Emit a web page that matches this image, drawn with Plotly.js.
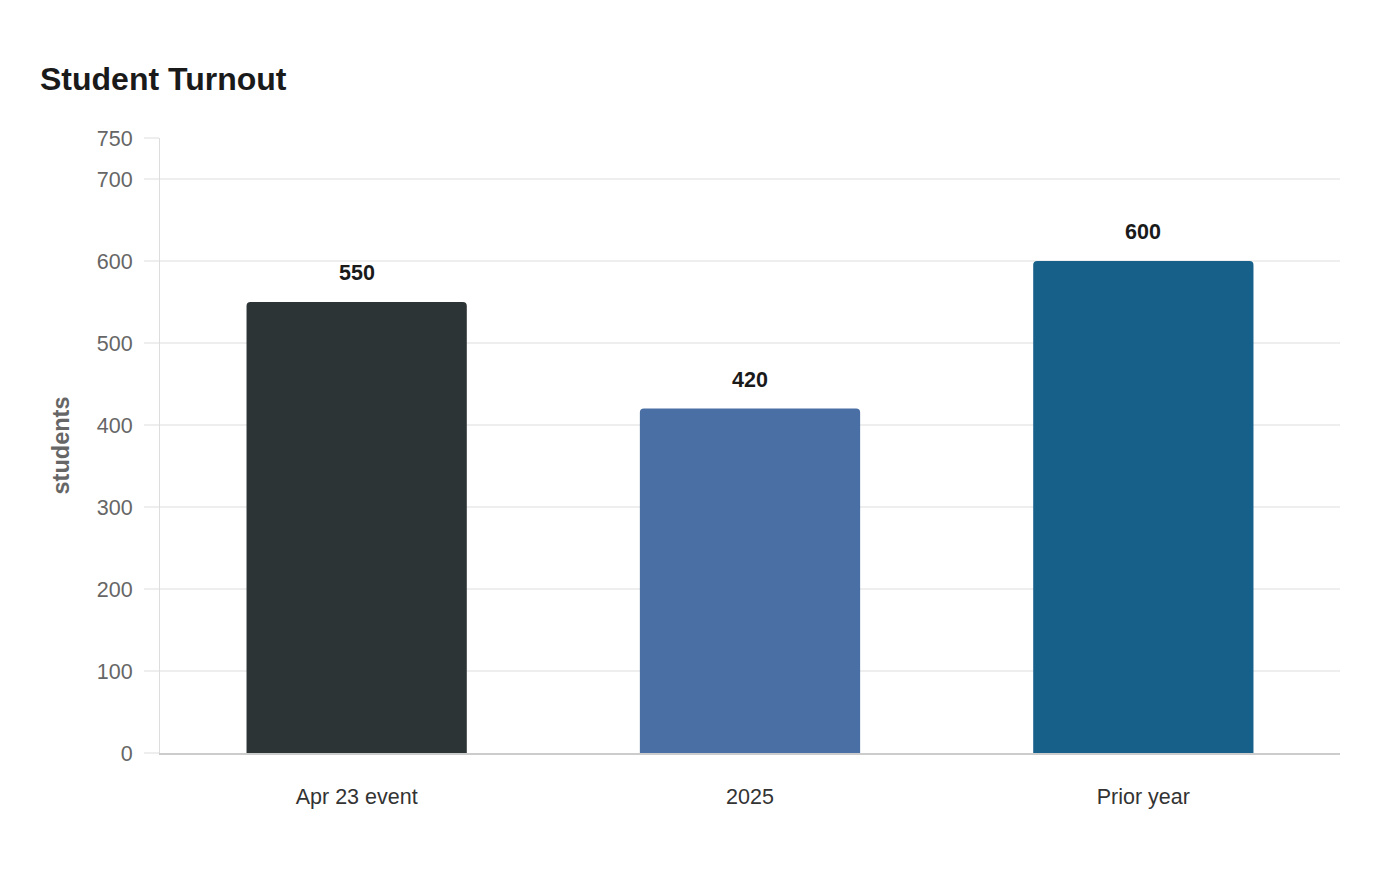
<!DOCTYPE html>
<html>
<head>
<meta charset="utf-8">
<script src="https://cdn.plot.ly/plotly-3.0.1.min.js"></script>
<style>html,body{margin:0;padding:0;background:#fff;}#chart{width:1400px;height:880px;}</style>
</head>
<body>
<div id="chart"></div>
<script>
const categories = ["Apr 23 event", "2025", "Prior year"];
const students = [550, 420, 600];
const barColors = ["#2d3436", "#4a6fa5", "#17608a"];
const yTicks = [0, 100, 200, 300, 400, 500, 600, 700, 750];

const trace = {
  type: "bar",
  x: categories,
  y: students,
  width: 0.56,
  marker: { color: barColors, line: { width: 0 }, cornerradius: 4 },
  hoverinfo: "x+y"
};

const annotations = categories.map((c, i) => ({
  x: i, y: students[i], xref: "x", yref: "y",
  text: "<b>" + students[i] + "</b>",
  showarrow: false, yanchor: "bottom", yshift: 15,
  font: { family: "Liberation Sans, Arial, sans-serif", size: 21.5, color: "#1a1a1a" }
}));

const layout = {
  width: 1400, height: 880,
  paper_bgcolor: "#fff", plot_bgcolor: "#fff",
  margin: { l: 160, r: 60, t: 138, b: 127 },
  font: { family: "Liberation Sans, Arial, sans-serif", size: 20, color: "#666" },
  title: { text: "<b>Student Turnout</b>", x: 40 / 1400, xref: "container", xanchor: "left",
    y: 1 - 79 / 880, yref: "container", yanchor: "middle",
    font: { size: 32, color: "#1a1a1a" } },
  xaxis: {
    type: "category",
    categoryorder: "array", categoryarray: categories,
    range: [-0.5, 2.5],
    showgrid: false, zeroline: false,
    showline: true, linecolor: "#cccccc", linewidth: 1.5,
    ticks: "outside", ticklen: 0, tickcolor: "#fff",
    ticklabelstandoff: 23,
    tickfont: { size: 21.5, color: "#333" }
  },
  yaxis: {
    range: [0, 750],
    tickvals: yTicks,
    ticktext: yTicks.map(String),
    showgrid: true, gridcolor: "#eeeeee", gridwidth: 1.5,
    zeroline: false,
    showline: true, linecolor: "#dddddd", linewidth: 1,
    ticks: "outside", ticklen: 15, tickcolor: "#eeeeee", tickwidth: 1.5,
    ticklabelstandoff: 7,
    tickfont: { size: 21.5, color: "#666" },
    title: { text: "<b>students</b>", standoff: 20, font: { size: 23.5, color: "#666" } }
  },
  annotations: annotations,
  showlegend: false
};

Plotly.newPlot("chart", [trace], layout, { displayModeBar: false, responsive: false });
</script>
</body>
</html>
